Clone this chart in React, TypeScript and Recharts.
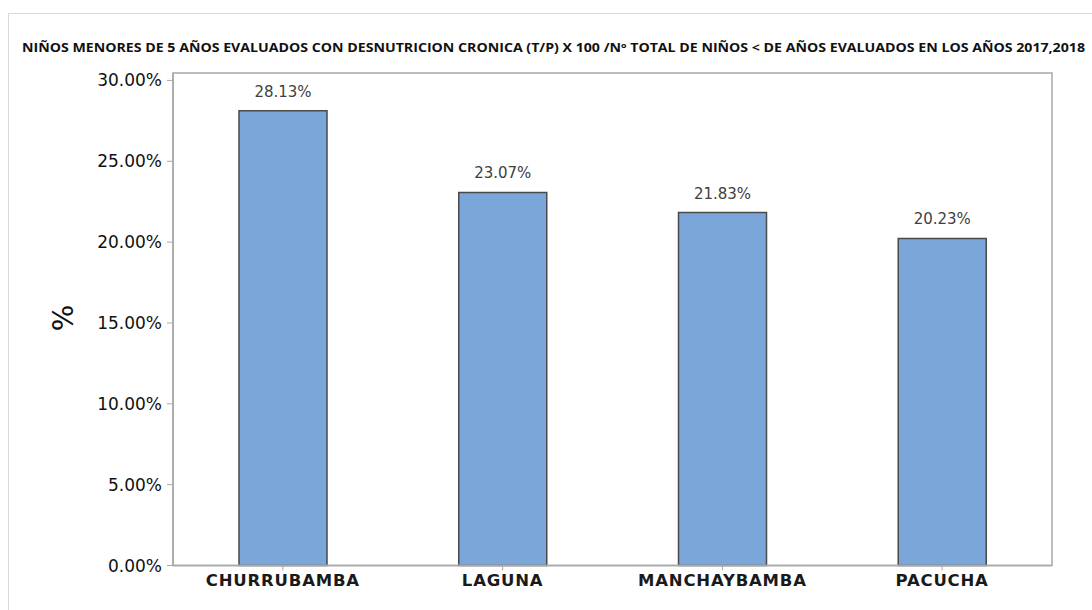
import { BarChart, Bar, XAxis, YAxis, LabelList } from "recharts";

const CATEGORIES = ["CHURRUBAMBA", "LAGUNA", "MANCHAYBAMBA", "PACUCHA"];
const VALUES = [28.13, 23.07, 21.83, 20.23];
const Y_TICKS = [0, 5, 10, 15, 20, 25, 30];
const TITLE =
  "NIÑOS MENORES DE 5 AÑOS EVALUADOS CON DESNUTRICION CRONICA (T/P) X 100 /Nº TOTAL DE NIÑOS < DE AÑOS EVALUADOS EN LOS AÑOS 2017,2018";

const data = CATEGORIES.map((name, i) => ({ name, value: VALUES[i] }));

const AXIS = "#a8a8a8";
const FONT = "'DejaVu Sans', sans-serif";

// plot frame (matches chart margins below)
const PLOT = { left: 173, top: 73, right: 1052, bottom: 565.5 };

export default function App() {
  return (
    <div style={{ position: "relative", width: 1092, height: 610, overflow: "hidden" }}>
      <style>{`body{margin:0}`}</style>
      <div
        style={{
          position: "absolute",
          left: 8,
          top: 13,
          width: 1200,
          height: 700,
          border: "1px solid #d9d9d9",
        }}
      />
      <div style={{ position: "absolute", left: 0, top: 0 }}>
        <BarChart
          width={1092}
          height={610}
          data={data}
          margin={{ top: 73, right: 40, bottom: 14.5, left: 73 }}
        >
          <XAxis
            dataKey="name"
            height={30}
            tickSize={5}
            tickMargin={4}
            axisLine={{ stroke: AXIS, strokeWidth: 1.5 }}
            tickLine={{ stroke: AXIS }}
            tick={{ fontSize: 16.5, fill: "#1a1a1a", fontFamily: FONT, fontWeight: "bold", letterSpacing: 0.8 }}
          />
          <YAxis
            width={100}
            domain={[0, 30.46]}
            ticks={Y_TICKS}
            tickFormatter={(v: number) => v.toFixed(2) + "%"}
            tickSize={6}
            tickMargin={5}
            axisLine={{ stroke: AXIS, strokeWidth: 1.5 }}
            tickLine={{ stroke: AXIS }}
            tick={{ fontSize: 17, fill: "#111", fontFamily: FONT }}
          />
          <Bar
            dataKey="value"
            barSize={88}
            fill="#7ba6d9"
            stroke="#4a4a4a"
            strokeWidth={1.5}
            isAnimationActive={false}
          >
            <LabelList
              dataKey="value"
              position="top"
              offset={14}
              formatter={(v: number) => v.toFixed(2) + "%"}
              style={{ fontSize: 15, fill: "#404040", fontFamily: FONT }}
            />
          </Bar>
        </BarChart>
      </div>
      <svg
        width={1092}
        height={610}
        style={{ position: "absolute", left: 0, top: 0, pointerEvents: "none" }}
      >
        <rect
          x={PLOT.left}
          y={PLOT.top}
          width={PLOT.right - PLOT.left}
          height={PLOT.bottom - PLOT.top}
          fill="none"
          stroke={AXIS}
          strokeWidth={1.5}
        />
        <text
          x={22}
          y={52}
          fontSize={11.5}
          fontWeight="bold"
          fontFamily="'Open Sans', sans-serif"
          fill="#111"
          textLength={1063}
          lengthAdjust="spacingAndGlyphs"
        >
          {TITLE}
        </text>
        <text
          x={63}
          y={318}
          transform="rotate(-90 63 318)"
          textAnchor="middle"
          dominantBaseline="central"
          fontSize={28}
          fontFamily={FONT}
          fill="#111"
        >
          %
        </text>
      </svg>
    </div>
  );
}
